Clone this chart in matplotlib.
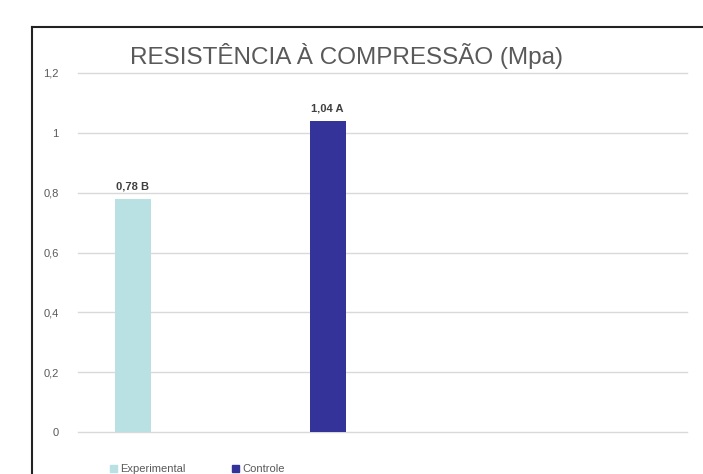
import matplotlib
matplotlib.use("Agg")
import matplotlib.pyplot as plt
from matplotlib.lines import Line2D
from matplotlib.patches import Rectangle

# data
series = ["Experimental", "Controle"]
values = [0.78, 1.04]
letters = ["B", "A"]
colors = ["#b9e0e3", "#333399"]
yticks = [0, 0.2, 0.4, 0.6, 0.8, 1.0, 1.2]
ytick_labels = ["0", "0,2", "0,4", "0,6", "0,8", "1", "1,2"]

plt.rcParams["font.family"] = ["Liberation Sans", "DejaVu Sans"]

W, H = 703, 474
fig = plt.figure(figsize=(W / 100, H / 100), dpi=100)
ax = fig.add_axes([78 / W, 42 / H, (687 - 78) / W, (432 - 73) / H])

positions = [0.9, 4.1]
ax.bar(positions, values, width=0.59, color=colors, zorder=2)
for x, v, l in zip(positions, values, letters):
    ax.text(x, v + 0.025, "{} {}".format(str(v).replace(".", ","), l),
            ha="center", va="bottom", fontsize=8, fontweight="bold", color="#404040")

ax.set_xlim(0, 10)
ax.set_ylim(0, 1.2)
ax.set_yticks(yticks)
ax.set_yticklabels(ytick_labels)
ax.set_xticks([])
ax.tick_params(axis="y", length=0, pad=14, labelsize=8, labelcolor="#595959")
ax.grid(axis="y", color="#d9d9d9", linewidth=1, zorder=0)
for gl in ax.get_ygridlines():
    gl.set_clip_on(False)
for s in ax.spines.values():
    s.set_visible(False)

# chart frame (partly cropped in the original)
fig.add_artist(Line2D([32 / W, 32 / W], [0, 1 - 27 / H], color="#222222", linewidth=1.5))
fig.add_artist(Line2D([32 / W, 1], [1 - 27 / H, 1 - 27 / H], color="#222222", linewidth=1.5))

fig.text(347 / W, 1 - 56 / H, "RESISTÊNCIA À COMPRESSÃO (Mpa)", ha="center", va="center",
         fontsize=17.5, color="#595959")

# legend at the bottom edge
lx = [110, 232]
for x, name, c in zip(lx, series, colors):
    fig.add_artist(Rectangle((x / W, 2 / H), 7 / W, 7 / H, color=c, transform=fig.transFigure))
    fig.text((x + 10) / W, 2 / H, name, ha="left", va="baseline", fontsize=8, color="#595959")

fig.savefig("out.png", dpi=100)
